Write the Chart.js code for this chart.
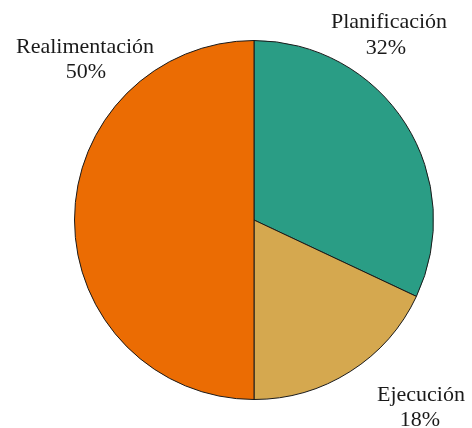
<!DOCTYPE html>
<html>
<head>
<meta charset="utf-8">
<script src="https://cdn.jsdelivr.net/npm/chart.js@4.4.1/dist/chart.umd.min.js"></script>
<style>
  html, body { margin:0; padding:0; background:#fff; }
  #wrap { width:472px; height:428px; position:relative; }
</style>
</head>
<body>
<div id="wrap"><canvas id="pieChart"></canvas></div>
<script>
/* Fases del proceso — reparto porcentual */

const labels  = ['Planificación', 'Ejecución', 'Realimentación'];
const values  = [32, 18, 50];
const colors  = ['#2a9d85', '#d5a84f', '#eb6c03'];

// where each label sits (px, canvas coords) — two lines: name and percent
const LABEL_POS = [
  { x:389, y:22, x2:386, y2:48 },
  { x:421, y:395, x2:420, y2:420 },
  { x:85,  y:47, x2:86,  y2:72 },
];

const labelPlugin = {
  id:'sliceLabels',
  afterDraw(chart) {
    const ctx = chart.ctx;
    ctx.save();
    ctx.fillStyle = '#1a1a1a';
    ctx.font = '22px "Liberation Serif", serif';
    ctx.textAlign = 'center';
    ctx.textBaseline = 'middle';
    chart.data.labels.forEach((lab, i) => {
      const p = LABEL_POS[i];
      ctx.fillText(lab, p.x, p.y);
      ctx.fillText(chart.data.datasets[0].data[i] + '%', p.x2, p.y2);
    });
    ctx.restore();
  }
};

new Chart(document.getElementById('pieChart'), {
  type:'pie',
  data:{ labels, datasets:[{ data:values, backgroundColor:colors, borderColor:'#1a1a1a', borderWidth:1 }] },
  options:{
    responsive:true, maintainAspectRatio:false, animation:false,
    layout:{ padding:{ top:40, bottom:28, left:36, right:0 } },
    plugins:{ legend:{ display:false }, tooltip:{ enabled:false } }
  },
  plugins:[labelPlugin]
});
</script>
</body>
</html>
